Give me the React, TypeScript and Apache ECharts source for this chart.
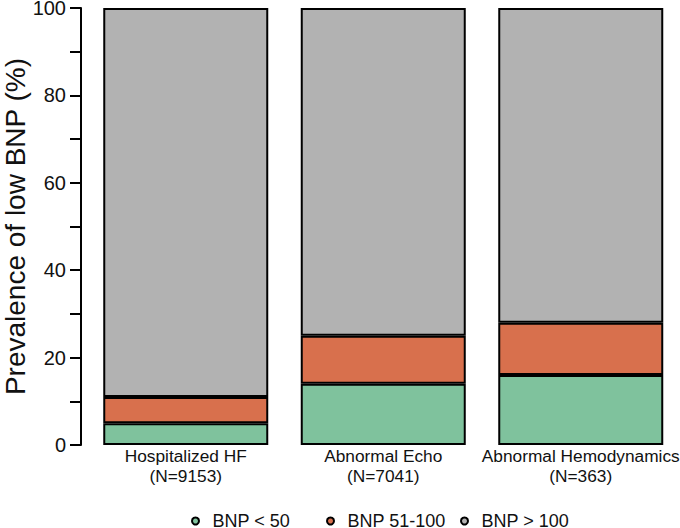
import React, { useEffect, useRef } from "react";
import * as echarts from "echarts";

const categories = ["Hospitalized HF\n(N=9153)", "Abnormal Echo\n(N=7041)", "Abnormal Hemodynamics\n(N=363)"];
const seriesNames = ["BNP < 50", "BNP 51-100", "BNP > 100"];
const bnpUnder50 = [5, 14, 16];
const bnp51to100 = [6, 11, 12];
const bnpOver100 = [89, 75, 72];
const colors = ["#7FC29D", "#D8704D", "#B2B2B2"];
const yTicks = [0, 20, 40, 60, 80, 100];

export default function App() {
  const ref = useRef<HTMLDivElement>(null);
  useEffect(() => {
    document.body.style.margin = "0";
    const chart = echarts.init(ref.current!, null, { renderer: "svg" });
    const font = "'Liberation Sans', Arial, sans-serif";
    const dataSets = [bnpUnder50, bnp51to100, bnpOver100];
    const legendLefts = [191, 326, 460];
    chart.setOption({
      animation: false,
      textStyle: { fontFamily: font },
      grid: { left: 87, right: 0.5, top: 8, bottom: 83, outerBoundsMode: "none", containLabel: false },
      legend: seriesNames.map((n, i) => ({
        data: [n],
        left: legendLefts[i],
        top: 512,
        padding: 0,
        icon: "circle",
        itemWidth: 24,
        itemHeight: 7,
        textStyle: { fontSize: 18, lineHeight: 14, color: "#111", fontFamily: font },
      })),
      xAxis: {
        type: "category",
        data: categories,
        axisLine: { show: false },
        axisTick: { show: false },
        axisLabel: { fontSize: 17.3, lineHeight: 20, margin: 1, color: "#111", fontFamily: font, interval: 0 },
      },
      yAxis: {
        type: "value",
        min: 0,
        max: 100,
        interval: 20,
        offset: 6,
        name: "Prevalence of low BNP (%)",
        nameLocation: "middle",
        nameGap: 52,
        nameMoveOverlap: false,
        nameTextStyle: { fontSize: 28, color: "#111", fontFamily: font },
        axisLine: { show: true, lineStyle: { color: "#000", width: 2 } },
        axisTick: { show: true, inside: false, length: 11, lineStyle: { color: "#000", width: 2 } },
        minorTick: { show: true, splitNumber: 2, length: 11, lineStyle: { color: "#000", width: 2 } },
        splitLine: { show: false },
        axisLabel: {
          fontSize: 20,
          margin: 15,
          inside: false,
          color: "#111",
          fontFamily: font,
          formatter: (v: number) => (yTicks.includes(v) ? String(v) : ""),
        },
      },
      series: seriesNames.map((n, i) => ({
        name: n,
        type: "bar",
        stack: "total",
        barWidth: 165,
        data: dataSets[i],
        itemStyle: { color: colors[i], borderColor: "#000", borderWidth: 2 },
      })),
    });
    return () => chart.dispose();
  }, []);
  return <div ref={ref} style={{ width: 680, height: 528 }} />;
}
